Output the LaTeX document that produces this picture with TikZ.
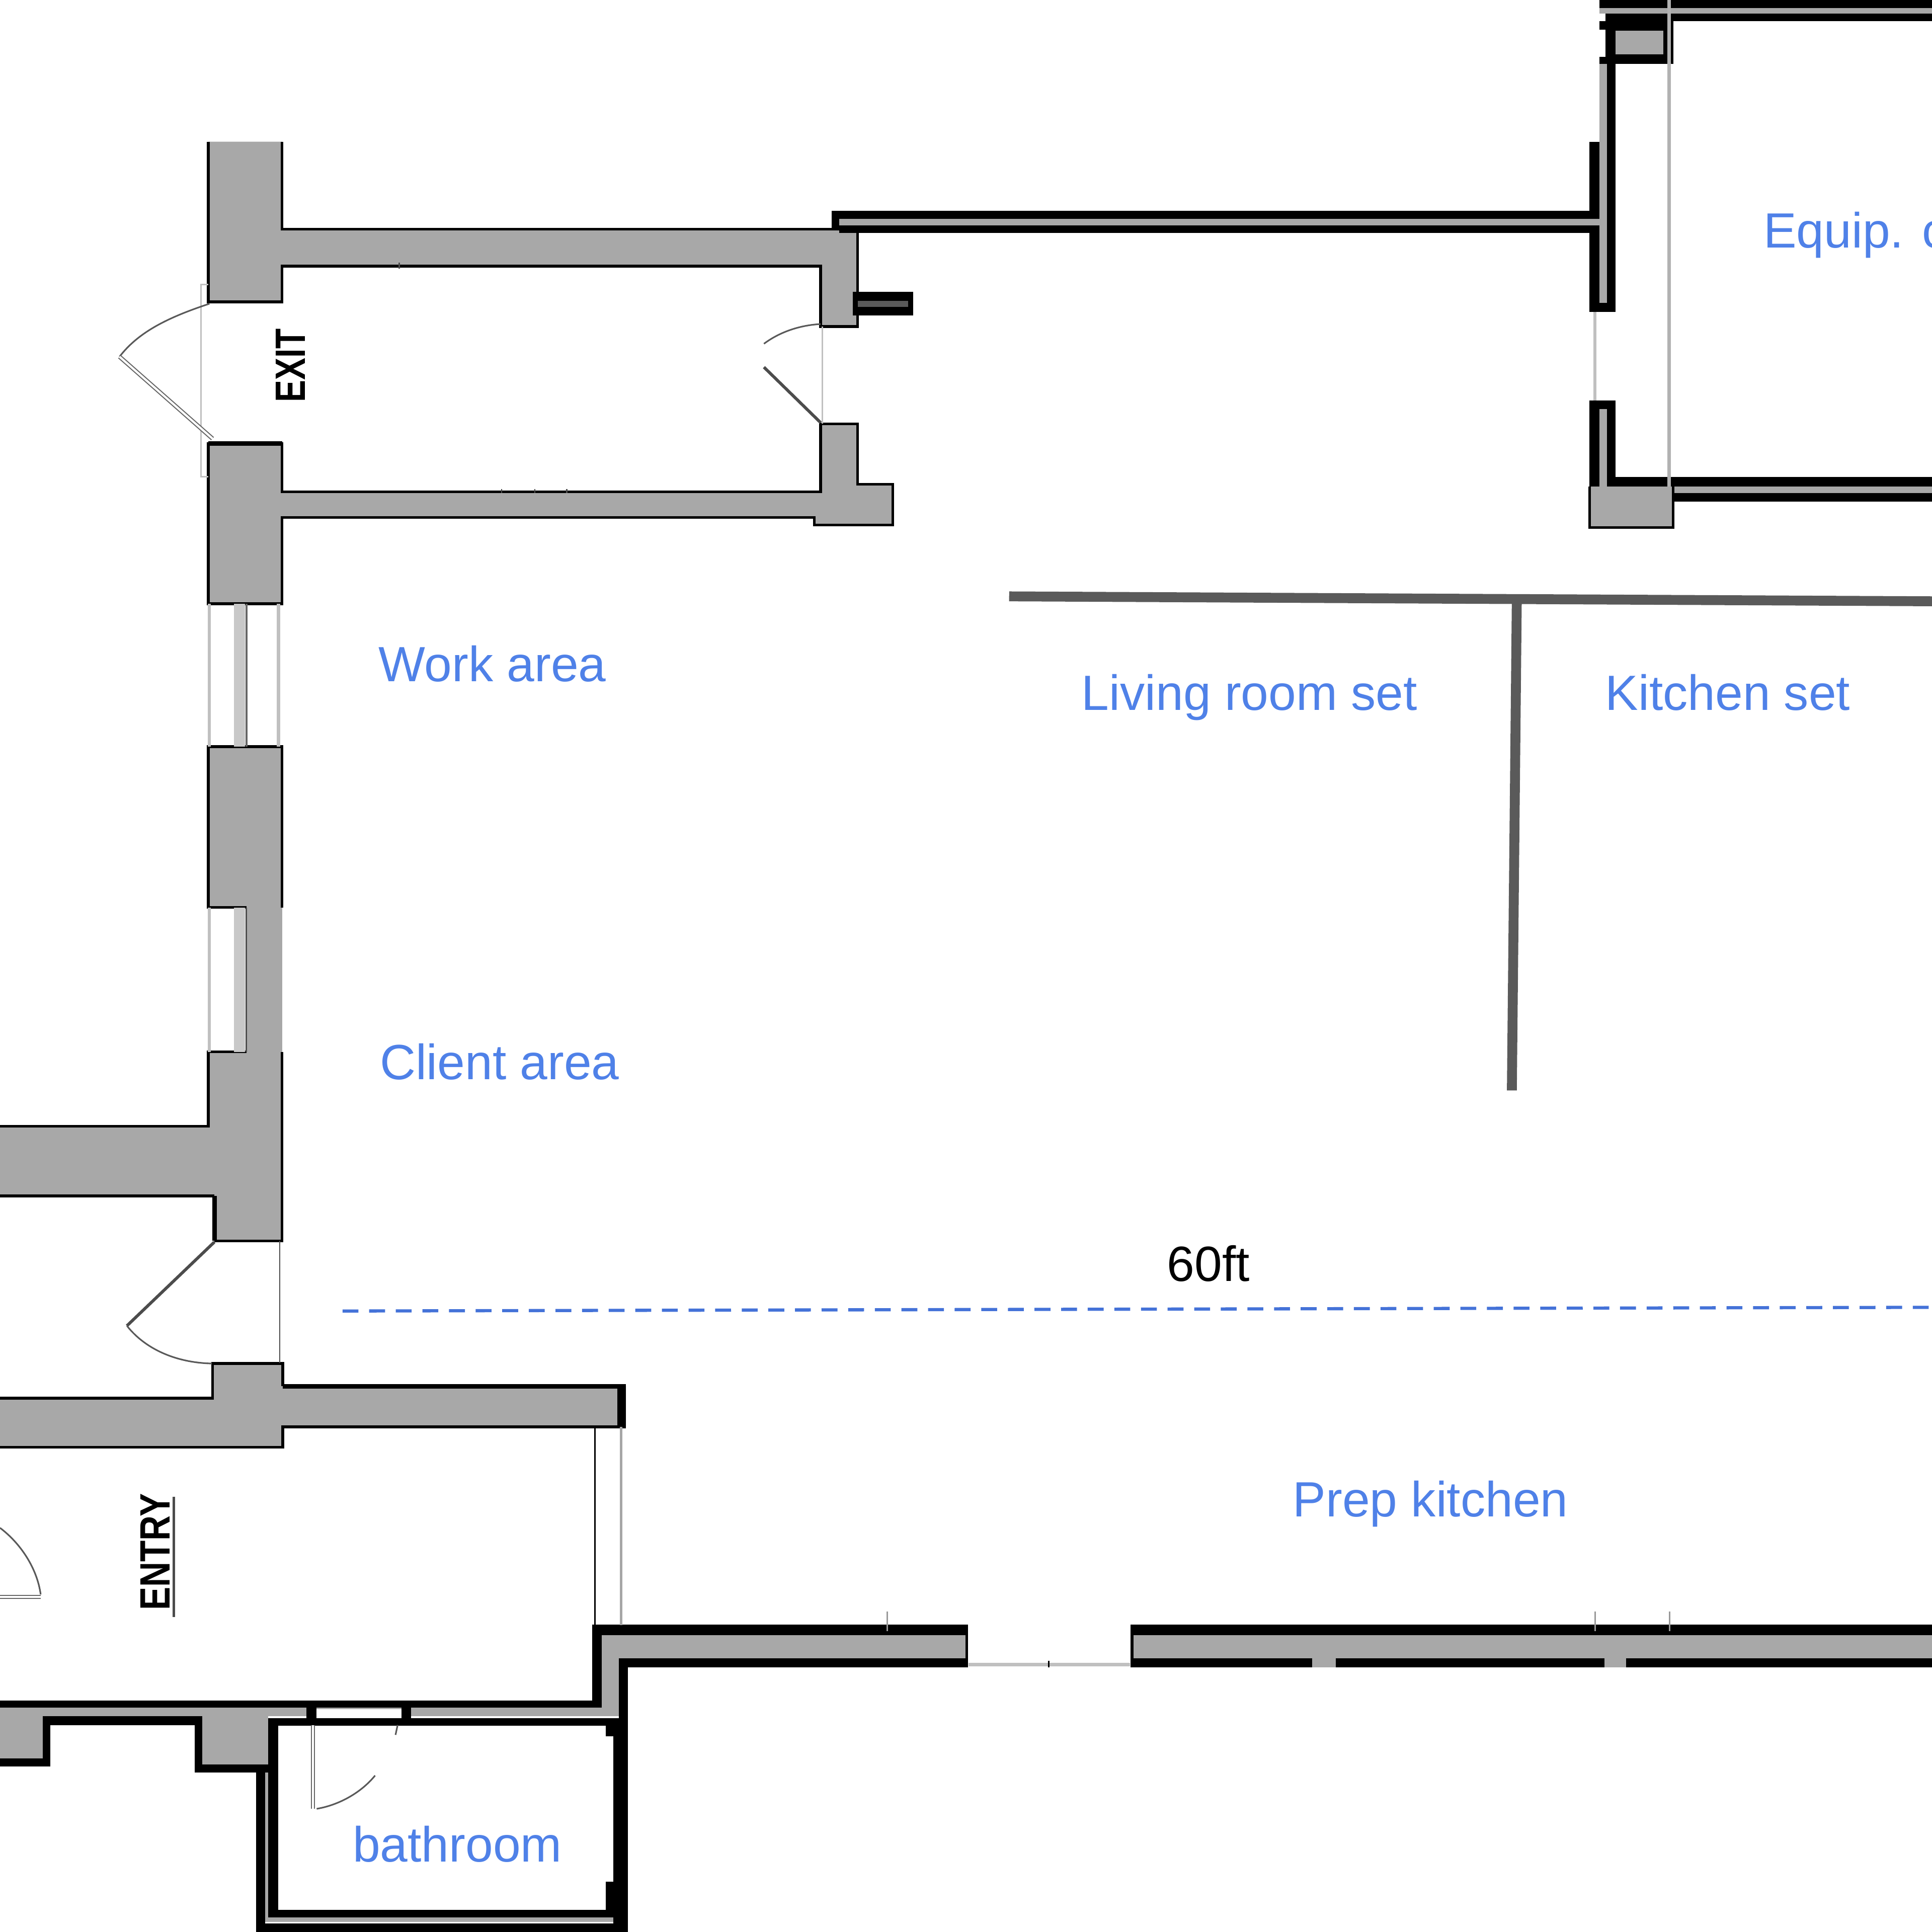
\documentclass[tikz,border=0pt]{standalone}
\usepackage{fontspec}
\setmainfont{Liberation Sans}
\definecolor{wallgray}{HTML}{A8A8A8}
\definecolor{framegray}{HTML}{C0C0C0}
\definecolor{striptone}{HTML}{C8C8C8}
\definecolor{partition}{HTML}{5A5A5A}
\definecolor{labelblue}{HTML}{4F81E8}
\definecolor{dashblue}{HTML}{4472D8}
\tikzset{
  wallfill/.style={fill=wallgray},
  walledge/.style={draw=black,line width=1.5pt,line join=miter},
  wallheavy/.style={draw=black,line width=2.6pt},
  frameline/.style={draw=framegray,line width=1.8pt},
  hairline/.style={draw=black!70,line width=0.8pt},
  swing/.style={draw=black!65,line width=0.9pt},
  leafdouble/.style={draw=black!60,line width=0.6pt,double=white,double distance=1.2pt},
  tickmark/.style={draw=black!70,line width=0.6pt},
  roomlabel/.style={inner sep=0pt,anchor=base west,text=labelblue,font=\fontsize{28}{30}\selectfont},
  planmark/.style={inner sep=0pt,rotate=90,text=black,font=\fontsize{24}{26}\selectfont\bfseries},
}
\begin{document}
\begin{tikzpicture}[x=0.02449cm,y=-0.02449cm]
\useasboundingbox (0,0) rectangle (1568,1568);

\fill[wallfill] (169,115) -- (229,115) -- (229,186) -- (696,186) -- (696,265) -- (666,265) -- (666,216) -- (229,216) -- (229,245) -- (169,245) -- cycle;
\draw[walledge] (169,115) -- (169,245) -- (229,245) -- (229,216) -- (666,216) -- (666,265) -- (696,265) -- (696,186) -- (229,186) -- (229,115);

\fill[wallfill] (169,360) -- (229,360) -- (229,399) -- (666,399) -- (666,344) -- (696,344) -- (696,393) -- (724.5,393) -- (724.5,426) -- (661,426) -- (661,420) -- (229,420) -- (229,490) -- (169,490) -- cycle;
\draw[walledge] (169,360) -- (229,360) -- (229,399) -- (666,399) -- (666,344) -- (696,344) -- (696,393) -- (724.5,393) -- (724.5,426) -- (661,426) -- (661,420) -- (229,420) -- (229,490) -- (169,490) -- cycle;
\draw[wallheavy] (169,360) -- (229,360);

\fill[wallfill] (169,606) -- (229,606) -- (229,1007) -- (174,1007) -- (174,970.6) -- (0,970.6) -- (0,914) -- (169,914) -- (169,853.7) -- (200,853.7) -- (200,736.5) -- (169,736.5) -- cycle;
\draw[walledge] (200,736.5) -- (169,736.5) -- (169,606) -- (229,606) -- (229,736.5);
\draw[walledge] (200,853.7) -- (169,853.7) -- (169,914) -- (0,914);
\draw[walledge] (229,853.7) -- (229,1007) -- (174,1007);
\draw[walledge] (0,970.6) -- (174,970.6);
\draw[wallheavy] (174,970.6) -- (174,1007);
\draw[hairline] (200,736.5) -- (200,853.7);

\draw[frameline] (170,490) -- (170,606);
\draw[frameline] (226,490) -- (226,606);
\fill[striptone] (190,490) rectangle (199,606);
\draw[draw=black!60,line width=1.2pt] (200,490) -- (200,606);
\draw[frameline] (170,736.5) -- (170,853.7);
\fill[striptone] (190,736.5) rectangle (199,853.7);

\fill[wallfill] (172.6,1106.6) -- (229.5,1106.6) -- (229.5,1125) -- (508,1125) -- (508,1158) -- (229.5,1158) -- (229.5,1174.5) -- (0,1174.5) -- (0,1134.7) -- (172.6,1134.7) -- cycle;
\draw[walledge] (0,1174.5) -- (229.5,1174.5) -- (229.5,1158) -- (508,1158);
\draw[walledge] (0,1134.7) -- (172.6,1134.7) -- (172.6,1106.6) -- (229.5,1106.6) -- (229.5,1125);
\draw[wallheavy] (229.5,1125) -- (508,1125);
\fill[black] (501,1125) rectangle (508,1158);

\fill[black] (675,171) rectangle (681,186);
\fill[black] (675,171) rectangle (1290,177.5);
\fill[wallgray] (681,177.5) rectangle (1298,183);
\fill[black] (681,183) rectangle (1290,189);
\fill[black] (692,237) rectangle (741,256);
\fill[partition] (696,244) rectangle (737,249);

\fill[black] (1298,0) rectangle (1568,6.5);
\fill[wallgray] (1298,6.5) rectangle (1568,11);
\fill[black] (1303,11) rectangle (1568,17);
\fill[black] (1303,11) rectangle (1358,52);
\fill[wallgray] (1311,25) rectangle (1350,44);
\fill[black] (1298,17) rectangle (1303,24);
\fill[black] (1298,46) rectangle (1303,52);
\fill[wallgray] (1298,52) rectangle (1304,247);
\fill[black] (1304,52) rectangle (1311,253);
\fill[black] (1290,115) rectangle (1298,253);
\fill[black] (1290,246) rectangle (1311,253);
\fill[wallgray] (1290,177.5) rectangle (1304,183);
\draw[frameline] (1294.5,253) -- (1294.5,325);

\fill[black] (1290,325) rectangle (1311,395);
\fill[wallgray] (1298,332) rectangle (1304,395);
\fill[black] (1304,387) rectangle (1568,395);
\fill[wallgray] (1358,395) rectangle (1568,400);
\fill[black] (1358,400) rectangle (1568,407);
\fill[wallfill] (1290,395) rectangle (1358,428);
\draw[walledge] (1290,395) -- (1290,428) -- (1358,428) -- (1358,395);
\draw[draw=black!30,line width=2pt] (1354.5,0) -- (1354.5,395);

\fill[black] (481,1318.6) rectangle (784.5,1327);
\fill[wallgray] (488.5,1327) rectangle (784.5,1346);
\fill[black] (502.4,1346) rectangle (784.5,1353.4);
\fill[black] (480.5,1318.6) rectangle (488.5,1386);
\fill[wallgray] (488.5,1327) rectangle (502.4,1393);
\draw[walledge] (784.5,1318.6) -- (784.5,1353.4);
\draw[frameline] (786,1351) -- (917,1351);
\draw[draw=black,line width=0.8pt] (851,1348) -- (851,1353.4);

\fill[black] (918.7,1318.6) rectangle (1568,1327);
\fill[wallgray] (918.7,1327) rectangle (1568,1346);
\fill[black] (918.7,1346) rectangle (1568,1353.4);
\fill[wallgray] (1065,1345) rectangle (1084,1353.4);
\fill[wallgray] (1302,1345) rectangle (1319.6,1353.4);
\draw[walledge] (918.7,1318.6) -- (918.7,1353.4);

\draw[draw=black!40,line width=0.8pt] (720,1308) -- (720,1324);
\draw[draw=black!40,line width=0.8pt] (1294.7,1308) -- (1294.7,1324);
\draw[draw=black!40,line width=0.8pt] (1355,1308) -- (1355,1324);

\fill[wallgray] (0,1386) rectangle (488.5,1393);
\fill[wallgray] (0,1393) rectangle (34.6,1427.6);
\fill[wallgray] (164,1393) rectangle (217.7,1432.5);
\fill[black] (0,1380) rectangle (481,1386);
\fill[black] (0,1427) rectangle (41,1433.7);
\fill[black] (34.6,1393) rectangle (41,1433.7);
\fill[black] (34.6,1393) rectangle (164,1400);
\fill[black] (158,1393) rectangle (164,1438.6);
\fill[black] (158,1432) rectangle (218,1438.6);

\fill[white] (257,1387) rectangle (326,1394.6);
\fill[black] (248.7,1386) rectangle (257,1394.6);
\fill[black] (326,1386) rectangle (333.6,1394.6);

\fill[black] (217.7,1394.5) rectangle (497.7,1400.6);
\fill[black] (217.7,1394.5) rectangle (226,1556);
\fill[black] (217.7,1550) rectangle (497.7,1556);
\fill[black] (491.5,1394.5) rectangle (497.7,1409);
\fill[black] (491.5,1527) rectangle (497.7,1556);
\fill[black] (497.7,1394.5) rectangle (509.7,1568);
\fill[black] (502.4,1346) rectangle (509.7,1568);
\fill[wallgray] (217.7,1556) rectangle (497.7,1560);
\fill[black] (208,1561) rectangle (509.7,1568);
\fill[black] (208,1438.6) rectangle (215,1568);
\fill[wallgray] (215,1438.6) rectangle (217.7,1560);

\draw[draw=black,line width=0.9pt] (483,1158) -- (483,1319);
\draw[draw=black!35,line width=1.3pt] (504,1158) -- (504,1319);
\draw[hairline] (227,1007) -- (227,1106);

\draw[frameline,line width=0.9pt] (169,231) -- (163,231) -- (163,387) -- (169,387);
\draw[swing] (170,246.5) .. controls (135,258) and (112,270) .. (97,289.5);
\draw[leafdouble] (97,289.5) -- (172.5,356);
\draw[frameline,line width=1pt] (667.5,265) -- (667.5,344);
\draw[swing] (666,263) .. controls (648,264) and (632,270) .. (620,279);
\draw[draw=black!70,line width=1.7pt] (620,298) -- (666,343);
\draw[draw=black!70,line width=1.7pt] (174,1008) -- (103,1076);
\draw[swing] (103,1076) .. controls (118,1095) and (143,1106) .. (172,1106.6);
\draw[swing] (0,1240) .. controls (16,1252) and (30,1272) .. (33,1294);
\draw[leafdouble] (0,1296) -- (33,1296);
\draw[leafdouble] (254,1400) -- (254,1468);
\draw[swing] (257,1468) .. controls (275,1465) and (293,1455) .. (304.4,1441);
\draw[swing] (321,1408) -- (322.7,1400);

\draw[tickmark] (324,213) -- (324,218);
\draw[tickmark] (407,397) -- (407,400);
\draw[tickmark] (434,397) -- (434,400);
\draw[tickmark] (460,397) -- (460,400);

\draw[draw=partition,line width=5.6pt] (819,484) -- (1568,488);
\draw[draw=partition,line width=5.6pt] (1231,488) -- (1227,885);
\draw[draw=dashblue,line width=1.8pt,dash pattern=on 12.9*0.02449cm off 8.7*0.02449cm] (278,1064) -- (1568,1061);

\node (exitmark) [planmark] at (236,296.5) {\scalebox{0.78}[1]{EXIT}};
\node (entrymark) [planmark] at (126,1259.5) {\scalebox{0.82}[1]{ENTRY}};
\draw[draw=black!70,line width=1.4pt] (141,1214.6) -- (141,1312.5);
\node (workarea) [roomlabel] at (307,553) {Work area};
\node (clientarea) [roomlabel] at (308,876) {Client area};
\node (livingset) [roomlabel] at (877.5,576.5) {Living room set};
\node (kitchenset) [roomlabel] at (1302.5,576.5) {Kitchen set};
\node (equipc) [roomlabel] at (1431,201) {Equip. c};
\node (prepkitchen) [roomlabel] at (1049,1231) {Prep kitchen};
\node (bathroom) [roomlabel] at (286,1511) {bathroom};
\node (sixtyft) [inner sep=0pt,anchor=base west,text=black,font=\fontsize{28}{30}\selectfont] at (947,1040) {60ft};
\end{tikzpicture}
\end{document}
